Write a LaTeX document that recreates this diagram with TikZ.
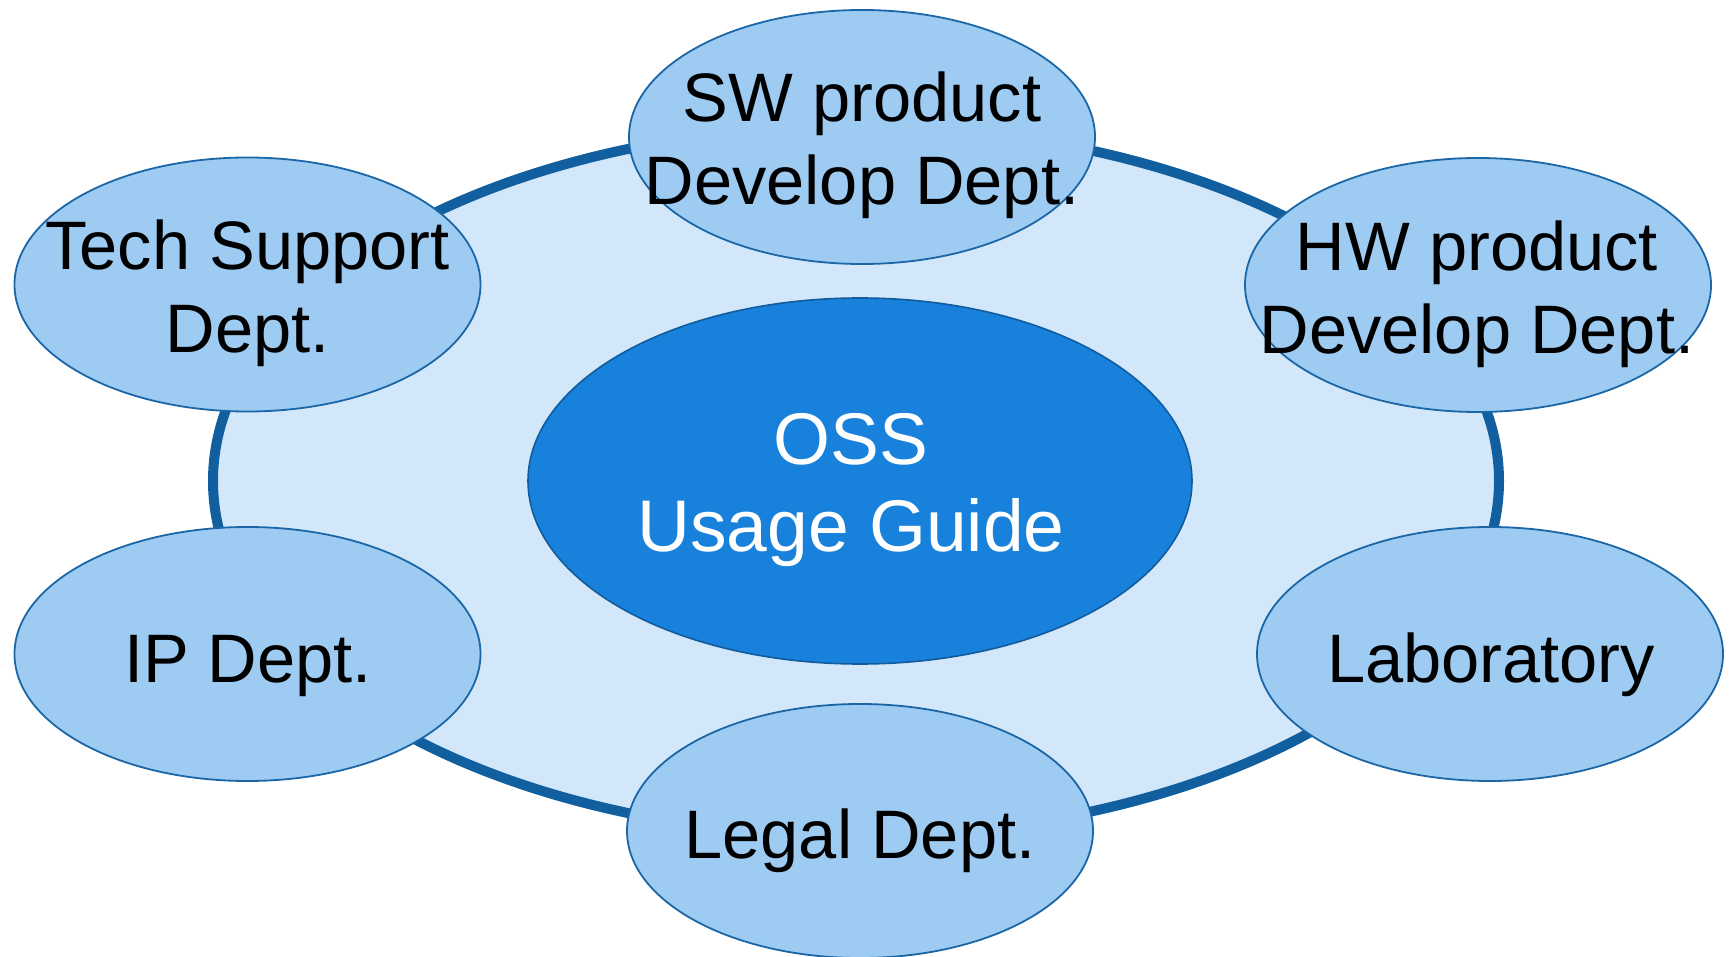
\documentclass[tikz,border=0pt]{standalone}
\usepackage{fontspec}
\setmainfont{Liberation Sans}
\usetikzlibrary{shapes.geometric}
\definecolor{ringfill}{HTML}{D3E7FA}
\definecolor{ringline}{HTML}{115F9F}
\definecolor{deptfill}{HTML}{9DCBF2}
\definecolor{deptline}{HTML}{1B66A6}
\definecolor{corefill}{HTML}{1881DB}
\definecolor{coreline}{HTML}{135C9C}
\newcommand{\twolines}[3]{\vtop{\baselineskip=#3\halign{\hfil##\hfil\cr #1\cr #2\cr}}}
\tikzset{
  ringshape/.style={ellipse, draw=ringline, fill=ringfill, line width=5pt, inner sep=0pt, minimum width=643pt, minimum height=355pt},
  coreshape/.style={ellipse, draw=coreline, fill=corefill, line width=0.8pt, inner sep=0pt, minimum width=332pt, minimum height=366pt/2},
  deptshape/.style={ellipse, draw=deptline, fill=deptfill, line width=0.9pt, inner sep=0pt, minimum width=233pt, minimum height=127pt},
  depttext/.style={inner sep=0pt, anchor=base, text=black, font=\fontsize{34.3pt}{41.5pt}\selectfont},
  coretext/.style={inner sep=0pt, anchor=base, text=white, font=\fontsize{36.6pt}{43.5pt}\selectfont}
}
\begin{document}
\begin{tikzpicture}[x=0.5pt, y=-0.5pt]
\path[use as bounding box] (0,0) rectangle (1731,957);
\node[ringshape] (ring) at (856,481) {};
\node[coreshape] (core) at (860,481) {};
\node[coretext] (coret) at (851,465) {\twolines{OSS}{Usage Guide}{43.5pt}};
\node[deptshape] (sw) at (862,137) {};
\node[depttext] (swt) at (862,122) {\twolines{SW product}{Develop Dept.}{41.5pt}};
\node[deptshape] (tech) at (247.5,284.5) {};
\node[depttext] (techt) at (247.5,270) {\twolines{Tech Support}{Dept.}{41.5pt}};
\node[deptshape] (hw) at (1478,285) {};
\node[depttext] (hwt) at (1477,271) {\twolines{HW product}{Develop Dept.}{41.5pt}};
\node[deptshape] (ip) at (247.5,654) {};
\node[depttext] (ipt) at (248,682) {IP Dept.};
\node[deptshape] (lab) at (1490,654) {};
\node[depttext] (labt) at (1491,682) {Laboratory};
\node[deptshape] (legal) at (860,831) {};
\node[depttext] (legalt) at (860,858) {Legal Dept.};
\end{tikzpicture}
\end{document}
